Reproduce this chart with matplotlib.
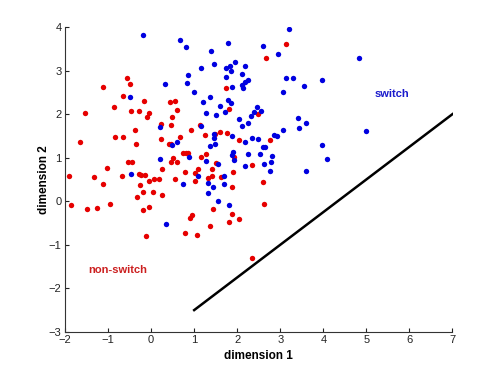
import matplotlib
matplotlib.use("Agg")
import matplotlib.pyplot as plt

plt.rcParams['font.family'] = ['Liberation Sans', 'DejaVu Sans']

# switch group (blue)
switch_x = [-0.18, 0.68, 0.82, 0.85, 0.32, 0.83, 0.99, -0.49, 0.21, 3.20,
            1.79, 1.40, 2.60, 2.95, 1.96, 1.45, 1.17, 1.73, 1.84, 2.19,
            1.85, 1.73, 2.12, 2.26, 2.17, 2.10, 2.13, 1.88, 3.14, 3.29,
            3.96, 3.54, 3.07, 1.36, 1.21, 1.78, 1.86, 1.61, 2.45, 1.27,
            1.50, 1.72, 2.38, 2.33, 2.55, 2.05, 2.24, 2.11, 3.41, 3.59,
            3.07, 3.43, 1.17, 1.46, 1.89, 1.46, 2.35, 2.48, 2.19, 2.86,
            2.92, 1.49, 1.36, 2.59, 2.65, 1.90, 1.87, 2.26, 2.54, 2.80,
            1.93, 1.27, 1.55, 2.18, 2.63, 2.79, 2.76, 1.10, 1.70, 1.31,
            1.43, 1.70, 1.33, 1.55, 1.82, 3.59, 3.98, 4.08, 4.82, 4.99,
            0.49, 0.60, 0.20, 0.88, -0.46, 0.74, 0.35]
switch_y = [3.82, 3.71, 3.53, 2.89, 2.70, 2.71, 2.51, 2.39, 1.70, 3.95,
            3.63, 3.46, 3.57, 3.37, 3.20, 3.16, 3.07, 3.07, 3.10, 3.10,
            3.00, 2.86, 2.91, 2.78, 2.74, 2.67, 2.59, 2.62, 2.84, 2.82,
            2.78, 2.65, 2.51, 2.40, 2.28, 2.32, 2.26, 2.18, 2.16, 2.02,
            1.98, 2.04, 2.05, 1.96, 2.07, 1.89, 1.79, 1.72, 1.92, 1.80,
            1.64, 1.69, 1.72, 1.55, 1.50, 1.45, 1.45, 1.42, 1.35, 1.51,
            1.50, 1.31, 1.27, 1.25, 1.25, 1.12, 1.06, 1.09, 1.09, 1.04,
            0.95, 0.92, 0.85, 0.80, 0.85, 0.89, 0.70, 0.58, 0.58, 0.41,
            0.32, 0.39, 0.20, 0.01, -0.09, 0.70, 1.28, 0.98, 3.28, 1.61,
            1.30, 1.35, 0.96, 1.02, 0.63, 0.40, -0.52]

# non-switch group (red)
nonswitch_x = [-0.57, -1.12, -0.49, -0.66, -0.87, -0.17, -0.46, -0.29, -0.04, -0.09,
               -1.53, 0.43, 0.56, 0.61, 0.48, 0.24, 0.46, -0.38, 0.93, 1.13,
               3.14, 2.66, 1.75, 1.80, 2.49, 1.59, 1.77, 1.48, 1.25, -1.65,
               -0.84, -0.66, -0.35, 0.22, 0.68, 0.42, 0.46, -1.90, -1.85, -1.49,
               -1.25, -0.96, -1.32, -1.12, -1.02, -0.68, -0.54, -0.45, -0.29, -0.23,
               -0.15, -0.25, -0.32, -0.18, -0.04, 0.06, 0.19, 0.04, 0.26, 0.26,
               -0.18, -0.06, 0.50, 0.47, 0.59, 0.73, 0.80, 0.86, 0.78, 0.55,
               1.01, 1.02, 1.10, 0.96, 0.90, 0.79, 1.06, -0.11, 2.04, 2.77,
               1.28, 1.17, 1.92, 1.50, 2.34, 1.42, 1.91, 1.41, 1.33, 1.63,
               1.89, 2.60, 2.62, 1.43, 1.89, 2.04, 1.81, 1.36, 2.34]
nonswitch_y = [2.82, 2.63, 2.68, 2.42, 2.17, 2.29, 2.07, 2.07, 2.03, 1.93,
               2.02, 2.27, 2.30, 2.10, 1.93, 1.77, 1.74, 1.64, 1.63, 1.76,
               3.62, 3.28, 2.61, 2.12, 2.01, 1.59, 1.57, 1.54, 1.52, 1.37,
               1.48, 1.47, 1.31, 1.42, 1.47, 1.31, 1.31, 0.59, -0.08, -0.18,
               -0.15, -0.07, 0.56, 0.40, 0.77, 0.58, 0.90, 0.90, 0.63, 0.60,
               0.61, 0.37, 0.10, 0.21, 0.47, 0.51, 0.51, 0.21, 0.74, 0.14,
               -0.20, -0.13, 0.99, 0.91, 0.90, 1.10, 1.10, 1.10, 0.68, 0.50,
               0.64, 0.47, 0.73, -0.32, -0.39, -0.72, -0.77, -0.81, 1.41, 1.41,
               1.09, 1.01, 1.02, 0.87, 0.83, 0.73, 0.67, 0.59, 0.54, 0.55,
               0.33, 0.44, -0.06, -0.18, -0.29, -0.41, -0.47, -0.58, -1.30]

# separating line
line_x = [1, 7]
line_y = [-2.5, 2.0]

fig = plt.figure(figsize=(5, 3.75), dpi=100)
ax = fig.add_axes([0.13, 0.115, 0.775, 0.813])

ax.scatter(nonswitch_x, nonswitch_y, s=15, color='#e60000', linewidths=0, zorder=3)
ax.scatter(switch_x, switch_y, s=15, color='#0000e0', linewidths=0, zorder=3)
ax.plot(line_x, line_y, color='black', linewidth=1.8, zorder=2)

ax.text(5.6, 2.46, 'switch', color='#1a1acc', fontsize=8, fontweight='bold',
        ha='center', va='center')
ax.text(-0.78, -1.59, 'non-switch', color='#cc2020', fontsize=8, fontweight='bold',
        ha='center', va='center')

ax.set_xlim(-2, 7)
ax.set_ylim(-3, 4)
ax.set_xticks(range(-2, 8))
ax.set_yticks(range(-3, 5))
ax.spines['top'].set_visible(False)
ax.spines['right'].set_visible(False)
for sp in ('left', 'bottom'):
    ax.spines[sp].set_color('#333333')
    ax.spines[sp].set_linewidth(0.8)
ax.tick_params(direction='in', length=3, width=0.8, labelsize=8, colors='#222222', pad=2.5)
ax.set_xlabel('dimension 1', fontsize=8.5, fontweight='bold', labelpad=3)
ax.set_ylabel('dimension 2', fontsize=8.5, fontweight='bold', labelpad=-1)

fig.savefig('out.png', dpi=100)
